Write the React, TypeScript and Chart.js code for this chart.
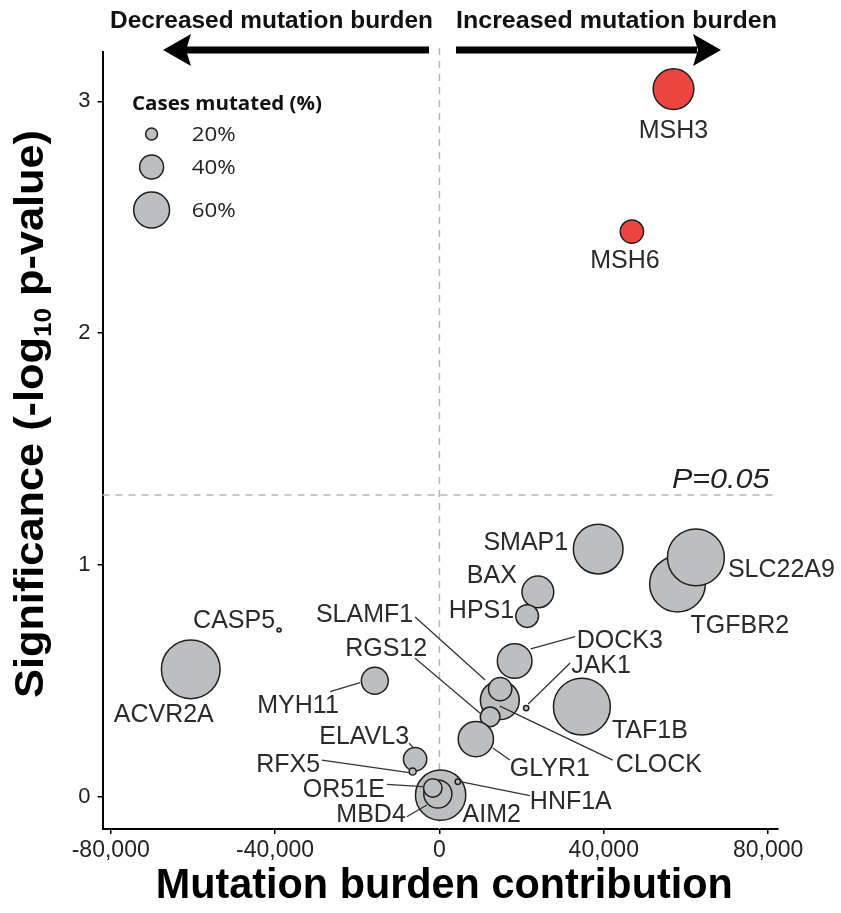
import React, { useEffect, useRef } from "react";
import { Chart, registerables } from "chart.js";
Chart.register(...registerables);

// ---------- data ----------
const genes = [
  "ACVR2A", "CASP5", "MYH11", "TAF1B", "TGFBR2", "SLC22A9", "SMAP1", "BAX", "HPS1",
  "DOCK3", "CLOCK", "SLAMF1", "RGS12", "GLYR1", "JAK1", "AIM2", "MBD4", "OR51E",
  "ELAVL3", "RFX5", "HNF1A", "MSH3", "MSH6",
];
const burden = [
  -60520, -39030, -15730, 34670, 57940, 62420, 38640, 23960, 21350,
  18310, 14700, 14780, 12340, 8860, 21110, 290, -390, -1610,
  -5920, -6520, 4480, 56970, 46840,
];
const significance = [
  0.549, 0.719, 0.5, 0.388, 0.917, 1.032, 1.068, 0.883, 0.779,
  0.585, 0.416, 0.464, 0.344, 0.248, 0.382, 0.006, 0.011, 0.037,
  0.161, 0.108, 0.064, 3.053, 2.438,
];
const casesMutated = [
  98, 7, 45, 95, 93, 95, 83, 53, 38,
  58, 65, 39, 33, 59, 9, 84, 47, 31,
  39, 12, 9, 68, 39,
];
const significantGenes = ["MSH3", "MSH6"];
const xTicks = [-80000, -40000, 0, 40000, 80000];
const yTicks = [0, 1, 2, 3];
const legendPct = [20, 40, 60];
const pThreshold = 0.05;

// ---------- layout / style (pixels) ----------
const W = 841;
const H = 913;
const RED = "#EF4540";
const GREY = "#BCBEC0";
const STROKE = "#1f1f1f";
const BORDER_W = 1.5;
const radiusFor = (pct: number) => 0.3 * pct + 0.7;

type Lab = { dx: number; dy: number; align: CanvasTextAlign; leader?: number[] };
const labelLayout: Record<string, Lab> = {
  MSH3: { dx: 0, dy: 40, align: "center" },
  MSH6: { dx: -7, dy: 27, align: "center" },
  SMAP1: { dx: -30, dy: -8, align: "right" },
  SLC22A9: { dx: 32, dy: 11, align: "left" },
  TGFBR2: { dx: 13, dy: 40, align: "left" },
  BAX: { dx: -21, dy: -18, align: "right" },
  HPS1: { dx: -13, dy: -7, align: "right" },
  DOCK3: { dx: 62, dy: -22, align: "left", leader: [16, -12, 60.5, -24.3] },
  JAK1: { dx: 45, dy: -44, align: "left", leader: [2, -4, 44, -45] },
  TAF1B: { dx: 30, dy: 22, align: "left" },
  CLOCK: { dx: 116, dy: 63, align: "left", leader: [0, 6, 113, 60] },
  SLAMF1: { dx: -87, dy: -76, align: "right", leader: [-85, -72, -15, -9] },
  RGS12: { dx: -63, dy: -70, align: "right", leader: [-75, -58.7, -10, -3.7] },
  GLYR1: { dx: 34, dy: 28, align: "left", leader: [17, 9, 34, 21] },
  CASP5: { dx: -4, dy: -11, align: "right" },
  ACVR2A: { dx: -27, dy: 44, align: "center" },
  MYH11: { dx: -36, dy: 23, align: "right", leader: [-44.7, 11, -14.7, 2] },
  ELAVL3: { dx: -6, dy: -24, align: "right", leader: [-6, -16, -2.3, -12.3] },
  RFX5: { dx: -92.5, dy: -9, align: "right", leader: [-90.8, -11.5, -3.5, 1.2] },
  AIM2: { dx: 22, dy: 18, align: "left" },
  MBD4: { dx: -32, dy: 19, align: "right", leader: [-31, 22.7, -11, 11] },
  OR51E: { dx: -48, dy: 0, align: "right", leader: [-46, -3.7, -9.7, -1.3] },
  HNF1A: { dx: 72, dy: 18, align: "left", leader: [2.3, 0, 72, 14] },
};

function drawFit(
  ctx: CanvasRenderingContext2D,
  text: string,
  x: number,
  y: number,
  font: string,
  width: number | null,
  align: CanvasTextAlign,
  color: string
) {
  ctx.save();
  ctx.font = font;
  const w = ctx.measureText(text).width;
  const s = width ? width / w : 1;
  ctx.translate(x, y);
  ctx.scale(s, 1);
  ctx.textAlign = align;
  ctx.textBaseline = "alphabetic";
  ctx.fillStyle = color;
  ctx.fillText(text, 0, 0);
  ctx.restore();
}

const decorPlugin = {
  id: "decor",
  beforeDatasetsDraw(chart: any) {
    const { ctx, chartArea, scales } = chart;
    const x0 = scales.x.getPixelForValue(0);
    const yT = scales.y.getPixelForValue(-Math.log10(pThreshold));
    ctx.save();
    ctx.strokeStyle = "#b5b5b5";
    ctx.lineWidth = 1.5;
    ctx.setLineDash([7, 6]);
    ctx.beginPath();
    ctx.moveTo(x0, chartArea.top - 4);
    ctx.lineTo(x0, chartArea.bottom);
    ctx.moveTo(chartArea.left, yT);
    ctx.lineTo(chartArea.right, yT);
    ctx.stroke();
    ctx.restore();
    drawFit(ctx, "P=0.05", chartArea.right - 8.5, yT - 7, "italic 28px 'Liberation Sans'", 97.6, "right", "#222");
  },
  afterDatasetsDraw(chart: any) {
    const { ctx, scales } = chart;
    const labelSize = 25;
    genes.forEach((g, i) => {
      const px = scales.x.getPixelForValue(burden[i]);
      const py = scales.y.getPixelForValue(significance[i]);
      const L = labelLayout[g];
      if (!L) return;
      if (L.leader) {
        ctx.save();
        ctx.strokeStyle = "#333";
        ctx.lineWidth = 1.3;
        ctx.beginPath();
        ctx.moveTo(px + L.leader[0], py + L.leader[1]);
        ctx.lineTo(px + L.leader[2], py + L.leader[3]);
        ctx.stroke();
        ctx.restore();
      }
      drawFit(ctx, g, px + L.dx, py + L.dy + 0.36 * labelSize, `${labelSize}px 'Liberation Sans'`, null, L.align, "#2b2b2b");
    });
  },
  afterDraw(chart: any) {
    const { ctx, chartArea } = chart;
    // top annotations
    drawFit(ctx, "Decreased mutation burden", 110, 28, "bold 24px 'Liberation Sans'", 323, "left", "#111");
    drawFit(ctx, "Increased mutation burden", 456, 28, "bold 24px 'Liberation Sans'", 321, "left", "#111");
    // arrows
    ctx.save();
    ctx.fillStyle = "#000";
    const ay = 50;
    ctx.fillRect(186, ay - 3.5, 429 - 186, 7);
    ctx.beginPath();
    ctx.moveTo(163, ay);
    ctx.lineTo(191, ay - 16);
    ctx.lineTo(186, ay);
    ctx.lineTo(191, ay + 16);
    ctx.closePath();
    ctx.fill();
    ctx.fillRect(456, ay - 3.5, 697 - 456, 7);
    ctx.beginPath();
    ctx.moveTo(721, ay);
    ctx.lineTo(693, ay - 16);
    ctx.lineTo(698, ay);
    ctx.lineTo(693, ay + 16);
    ctx.closePath();
    ctx.fill();
    ctx.restore();

    // legend
    drawFit(ctx, "Cases mutated (%)", 132, 109.5, "bold 19px 'Open Sans'", 190, "left", "#111");
    const legCenters = [134, 167, 210];
    legendPct.forEach((p, i) => {
      const r = radiusFor(p) - BORDER_W / 2;
      ctx.save();
      ctx.beginPath();
      ctx.arc(151.6, legCenters[i], r, 0, Math.PI * 2);
      ctx.fillStyle = GREY;
      ctx.fill();
      ctx.lineWidth = BORDER_W;
      ctx.strokeStyle = STROKE;
      ctx.stroke();
      ctx.restore();
      drawFit(ctx, `${p}%`, 191.7, legCenters[i] + 7, "20px 'Open Sans'", 44, "left", "#222");
    });

    // axis titles
    drawFit(ctx, "Mutation burden contribution", (chartArea.left + chartArea.right) / 2 + 4, 898, "bold 42px 'Liberation Sans'", 577, "center", "#000");

    // y title with subscript
    ctx.save();
    const big = "bold 40px 'Liberation Sans'";
    const small = "bold 24px 'Liberation Sans'";
    const p1 = "Significance (-log";
    const p2 = "10";
    const p3 = " p-value)";
    ctx.font = big;
    const w1 = ctx.measureText(p1).width;
    const w3 = ctx.measureText(p3).width;
    ctx.font = small;
    const w2 = ctx.measureText(p2).width;
    const total = w1 + w2 + w3;
    const target = 568;
    const s = target / total;
    ctx.translate(43, 414);
    ctx.rotate(-Math.PI / 2);
    ctx.scale(s, 1);
    ctx.fillStyle = "#000";
    ctx.textBaseline = "alphabetic";
    ctx.textAlign = "left";
    let x = -total / 2;
    ctx.font = big;
    ctx.fillText(p1, x, 0);
    x += w1;
    ctx.font = small;
    ctx.fillText(p2, x, 8);
    x += w2;
    ctx.font = big;
    ctx.fillText(p3, x, 0);
    ctx.restore();
  },
};

export default function App() {
  const ref = useRef<HTMLCanvasElement | null>(null);
  useEffect(() => {
    if (!ref.current) return;
    const chart = new Chart(ref.current, {
      type: "scatter",
      data: {
        datasets: [
          {
            data: genes.map((g, i) => ({ x: burden[i], y: significance[i] })),
            backgroundColor: genes.map((g) => (significantGenes.includes(g) ? RED : GREY)),
            borderColor: STROKE,
            borderWidth: BORDER_W,
            pointRadius: casesMutated.map((p) => radiusFor(p) - BORDER_W / 2),
            pointHoverRadius: casesMutated.map((p) => radiusFor(p) - BORDER_W / 2),
          },
        ],
      },
      options: {
        animation: false,
        responsive: false,
        maintainAspectRatio: false,
        devicePixelRatio: 1,
        events: [],
        layout: { padding: { top: 52, right: 63, left: 0, bottom: 0 } },
        plugins: { legend: { display: false }, tooltip: { enabled: false }, title: { display: false } },
        scales: {
          x: {
            type: "linear",
            min: -82000,
            max: 82400,
            afterBuildTicks: (s: any) => {
              s.ticks = xTicks.map((v) => ({ value: v }));
            },
            afterFit: (s: any) => {
              s.height = 84;
            },
            grid: { drawOnChartArea: false, drawTicks: true, tickLength: 5, color: "#000", lineWidth: 1.5 },
            border: { display: true, color: "#000", width: 2 },
            ticks: {
              font: { family: "'Liberation Sans'", size: 23 },
              color: "#222",
              padding: 3,
              maxRotation: 0,
              autoSkip: false,
              callback: (v: any) => Number(v).toLocaleString("en-US"),
            },
          },
          y: {
            type: "linear",
            min: -0.14,
            max: 3.213,
            afterBuildTicks: (s: any) => {
              s.ticks = yTicks.map((v) => ({ value: v }));
            },
            afterFit: (s: any) => {
              s.width = 102.5;
            },
            grid: { drawOnChartArea: false, drawTicks: true, tickLength: 5, color: "#000", lineWidth: 1.5 },
            border: { display: true, color: "#000", width: 2 },
            ticks: {
              font: { family: "'Liberation Sans'", size: 22 },
              color: "#222",
              padding: 7,
              autoSkip: false,
              callback: (v: any) => String(v),
            },
          },
        },
      },
      plugins: [decorPlugin],
    });
    return () => chart.destroy();
  }, []);
  return (
    <div style={{ position: "absolute", left: 0, top: 0, width: W, height: H, background: "#fff" }}>
      <canvas ref={ref} width={W} height={H} style={{ display: "block", width: W, height: H }} />
    </div>
  );
}
